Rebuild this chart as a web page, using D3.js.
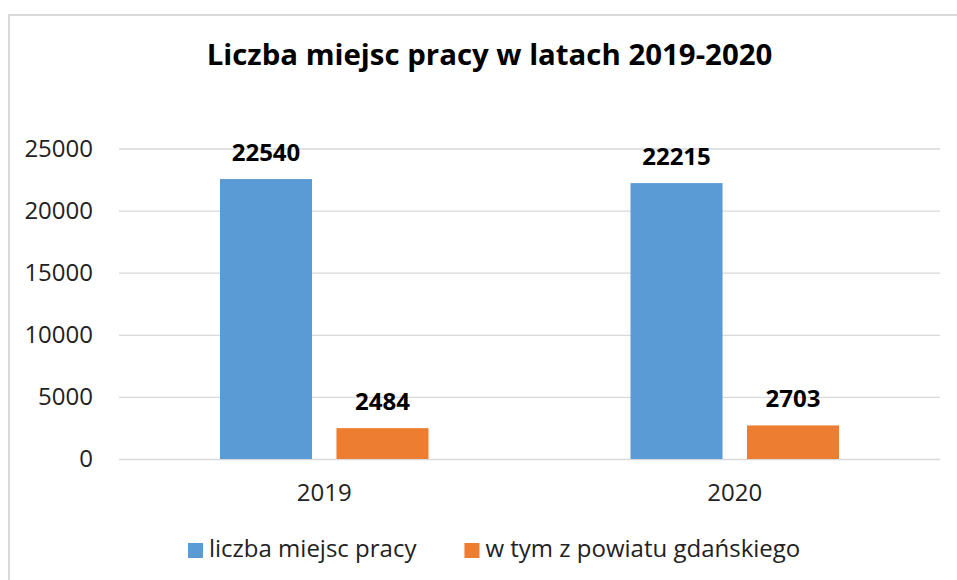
<!DOCTYPE html>
<html>
<head>
<meta charset="utf-8">
<script src="https://cdn.jsdelivr.net/npm/d3@7"></script>
<style>
  html, body { margin: 0; padding: 0; background: #fff; }
  svg { display: block; font-family: "Open Sans", sans-serif; }
</style>
</head>
<body>
<svg id="chart" width="957" height="580"></svg>
<script>
const title = "Liczba miejsc pracy w latach 2019-2020";
const categories = ["2019", "2020"];
const seriesNames = ["liczba miejsc pracy", "w tym z powiatu gdańskiego"];
const seriesA = [22540, 22215];
const seriesB = [2484, 2703];
const yTicks = [0, 5000, 10000, 15000, 20000, 25000];
const colors = ["#5B9BD5", "#ED7D31"];

const svg = d3.select("#chart");
const W = 957, H = 580;
const plot = { left: 119, right: 940, top: 148.5, bottom: 459 };

// chart border
svg.append("rect")
  .attr("x", 9).attr("y", 15)
  .attr("width", W + 20).attr("height", H + 20)
  .attr("fill", "#fff").attr("stroke", "#d9d9d9").attr("stroke-width", 2);

// title
svg.append("text")
  .attr("x", 489.5).attr("y", 65)
  .attr("text-anchor", "middle")
  .attr("font-size", 29.4).attr("font-weight", 700).attr("fill", "#000")
  .text(title);

const y = d3.scaleLinear().domain([0, 25000]).range([plot.bottom, plot.top]);
const x0 = d3.scaleBand().domain(categories).range([plot.left, plot.right]).paddingInner(0).paddingOuter(0);
const x1 = d3.scaleBand().domain([0, 1]).range([0, x0.bandwidth()]).paddingInner(0.21).paddingOuter(0.867);

// gridlines
const yAxis = d3.axisLeft(y).tickValues(yTicks).tickSize(-(plot.right - plot.left)).tickFormat(d3.format("d")).tickPadding(26);
const gy = svg.append("g").attr("transform", `translate(${plot.left},0)`).call(yAxis);
gy.select(".domain").remove();
gy.selectAll(".tick line").attr("stroke", "#d9d9d9").attr("stroke-width", 1.3);
gy.selectAll(".tick text").attr("font-size", 24).attr("fill", "#222").attr("font-family", "Open Sans, sans-serif");

// bars
const data = categories.map((c, i) => ({ cat: c, vals: [seriesA[i], seriesB[i]] }));
const groups = svg.append("g").selectAll("g").data(data).join("g")
  .attr("transform", d => `translate(${x0(d.cat)},0)`);

groups.selectAll("rect").data(d => d.vals.map((v, k) => ({ v, k }))).join("rect")
  .attr("x", d => x1(d.k))
  .attr("width", x1.bandwidth())
  .attr("y", d => y(d.v))
  .attr("height", d => y(0) - y(d.v))
  .attr("fill", d => colors[d.k]);

groups.selectAll("text.lbl").data(d => d.vals.map((v, k) => ({ v, k }))).join("text")
  .attr("class", "lbl")
  .attr("x", d => x1(d.k) + x1.bandwidth() / 2)
  .attr("y", d => y(d.v) - 18)
  .attr("text-anchor", "middle")
  .attr("font-size", 24).attr("font-weight", 700).attr("fill", "#000")
  .text(d => d.v);

// x axis labels
const xAxis = d3.axisBottom(x0).tickSize(0).tickPadding(25);
const gx = svg.append("g").attr("transform", `translate(0,${plot.bottom})`).call(xAxis);
gx.select(".domain").remove();
gx.selectAll(".tick text").attr("font-size", 24).attr("fill", "#222").attr("font-family", "Open Sans, sans-serif");

// legend
const legend = svg.append("g");
let lx = 188;
seriesNames.forEach((name, k) => {
  legend.append("rect").attr("x", lx).attr("y", 543).attr("width", 15).attr("height", 15).attr("fill", colors[k]);
  const t = legend.append("text").attr("x", lx + 21).attr("y", 557)
    .attr("font-size", 24).attr("fill", "#222").text(name);
  lx += 21 + t.node().getComputedTextLength() + 48;
});
</script>
</body>
</html>
